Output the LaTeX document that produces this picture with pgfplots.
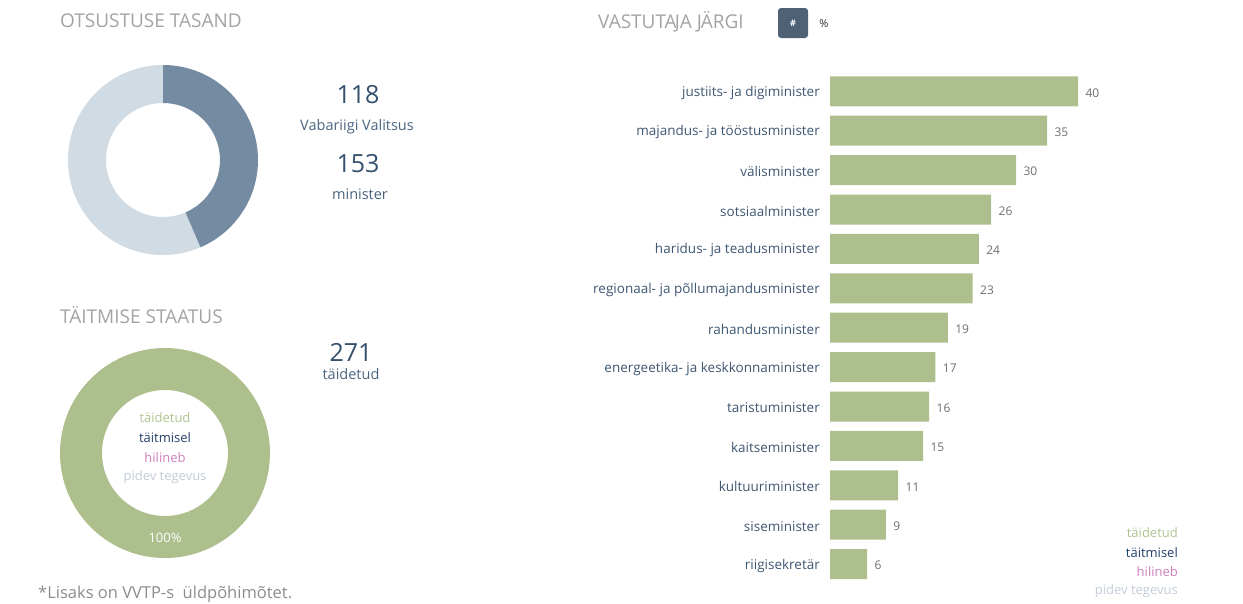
\documentclass[border=0pt]{standalone}
\usepackage{pgfplots}
\pgfplotsset{compat=1.18}
\usepackage{fontspec}
\setmainfont{Open Sans}
\definecolor{titlegray}{HTML}{A3A3A3}
\definecolor{footgray}{HTML}{8C8C8C}
\definecolor{numdark}{HTML}{34506D}
\definecolor{labcol}{HTML}{4A6580}
\definecolor{catcol}{HTML}{3E5671}
\definecolor{valgray}{HTML}{6E6E6E}
\definecolor{barGreen}{HTML}{ADBF8C}
\definecolor{segDark}{HTML}{748BA1}
\definecolor{segLight}{HTML}{D1DBE4}
\definecolor{btn}{HTML}{4F6275}
\definecolor{lgGreen}{HTML}{B0C48F}
\definecolor{lgNavy}{HTML}{21406A}
\definecolor{lgPink}{HTML}{CC7FBE}
\definecolor{lgGray}{HTML}{C2CCD8}
\begin{document}
\begin{tikzpicture}
\path (0pt,0pt) rectangle (1243pt,-603pt);
\pgfmathsetmacro{\vA}{118}
\pgfmathsetmacro{\vB}{153}
\pgfmathsetmacro{\angA}{90-360*(\vA/(\vA+\vB))}
\pgfmathsetmacro{\angB}{\angA+360}
\pgfmathsetmacro{\oX}{95*cos(\angA)}
\pgfmathsetmacro{\oY}{95*sin(\angA)}
\pgfmathsetmacro{\iX}{57*cos(\angA)}
\pgfmathsetmacro{\iY}{57*sin(\angA)}
% ---------- titles ----------
\node[anchor=west,inner sep=0pt,text=titlegray,font=\fontsize{19}{22}\selectfont] at (60pt,-21pt) {OTSUSTUSE TASAND};
\node[anchor=west,inner sep=0pt,text=titlegray,font=\fontsize{19}{22}\selectfont] at (60pt,-315pt) {TÄITMISE STAATUS};
\node[anchor=west,inner sep=0pt,text=titlegray,font=\fontsize{19}{22}\selectfont] at (598pt,-22pt) {VASTUTA\kern-2pt JA J\kern-1pt ÄRGI};
\fill[btn,rounded corners=3pt] (778pt,-8pt) rectangle (808pt,-38pt);
\node[text=white,font=\fontsize{9}{11}\selectfont\bfseries] at (793pt,-23pt) {\#};
\node[text=black!80,font=\fontsize{11}{13}\selectfont] at (824pt,-24pt) {\%};
% ---------- top donut ----------
\begin{axis}[at={(163pt,-160pt)},anchor=center,hide axis,scale only axis,
  width=190pt,height=190pt,xmin=-95,xmax=95,ymin=-95,ymax=95]
\fill[segLight] (axis cs:\oX,\oY) arc[start angle=\angA,end angle=-270,radius=95pt]
  -- (axis cs:0,57) arc[start angle=90,end angle=\angB,radius=57pt] -- cycle;
\fill[segDark] (axis cs:0,95) arc[start angle=90,end angle=\angA,radius=95pt]
  -- (axis cs:\iX,\iY) arc[start angle=\angA,end angle=90,radius=57pt] -- cycle;
\end{axis}
\node[text=numdark,font=\fontsize{25}{30}\selectfont] at (358pt,-95pt) {118};
\node[text=labcol,font=\fontsize{14.5}{17}\selectfont] at (357pt,-127pt) {Vabariigi Valitsus};
\node[text=numdark,font=\fontsize{25}{30}\selectfont] at (358pt,-164pt) {153};
\node[text=labcol,font=\fontsize{14.5}{17}\selectfont] at (360pt,-194pt) {minister};
% ---------- bottom donut ----------
\begin{axis}[at={(165pt,-453pt)},anchor=center,hide axis,scale only axis,
  width=210pt,height=210pt,xmin=-105,xmax=105,ymin=-105,ymax=105]
\fill[barGreen,even odd rule] (axis cs:0,0) circle[radius=105pt] (axis cs:0,0) circle[radius=63pt];
\end{axis}
\node[text=white,font=\fontsize{13}{15}\selectfont] at (165pt,-538pt) {100\%};
\node[text=lgGreen,font=\fontsize{13}{15}\selectfont] at (165pt,-418pt) {täidetud};
\node[text=lgNavy,font=\fontsize{13}{15}\selectfont] at (165pt,-438pt) {täitmisel};
\node[text=lgPink,font=\fontsize{13}{15}\selectfont] at (165pt,-458pt) {hilineb};
\node[text=lgGray,font=\fontsize{13}{15}\selectfont] at (165pt,-477pt) {pidev tegevus};
\node[text=numdark,font=\fontsize{25}{30}\selectfont] at (351pt,-352pt) {271};
\node[text=labcol,font=\fontsize{14.5}{17}\selectfont] at (351pt,-374pt) {täidetud};
\node[anchor=west,inner sep=0pt,text=footgray,font=\fontsize{16.5}{19}\selectfont] at (38pt,-594pt) {*Lisaks on VVTP-s\ \ üldpõhimõtet.};
% ---------- bar chart ----------
\begin{axis}[at={(830pt,-71.6pt)},anchor=north west,scale only axis,
  width=248pt,height=512.2pt,xmin=0,xmax=40,ymin=-0.5,ymax=12.5,
  y dir=reverse,xbar,bar width=30pt,enlargelimits=false,
  axis line style={draw=none},major tick length=0pt,xtick=\empty,
  /pgf/number format/assume math mode=true,
  ytick={0,1,2,3,4,5,6,7,8,9,10,11,12},
  yticklabels={justiits- ja digiminister,majandus- ja tööstusminister,välisminister,sotsiaalminister,haridus- ja teadusminister,regionaal- ja põllumajandusminister,rahandusminister,energeetika- ja keskkonnaminister,taristuminister,kaitseminister,kultuuriminister,siseminister,riigisekretär},
  yticklabel style={font=\fontsize{13.5}{16}\selectfont,text=catcol,inner sep=0pt,xshift=-10pt,yshift=-1.5pt},
  nodes near coords,
  nodes near coords style={font=\fontsize{12}{14}\selectfont,text=valgray,xshift=4pt,yshift=-1.5pt}]
\addplot[fill=barGreen,draw=none] coordinates {(40,0) (35,1) (30,2) (26,3) (24,4) (23,5) (19,6) (17,7) (16,8) (15,9) (11,10) (9,11) (6,12)};
\end{axis}
% ---------- legend bottom right ----------
\node[anchor=east,inner sep=0pt,text=lgGreen,font=\fontsize{13}{15}\selectfont] at (1178pt,-533pt) {täidetud};
\node[anchor=east,inner sep=0pt,text=lgNavy,font=\fontsize{13}{15}\selectfont] at (1178pt,-553pt) {täitmisel};
\node[anchor=east,inner sep=0pt,text=lgPink,font=\fontsize{13}{15}\selectfont] at (1178pt,-572pt) {hilineb};
\node[anchor=east,inner sep=0pt,text=lgGray,font=\fontsize{13}{15}\selectfont] at (1178pt,-591pt) {pidev tegevus};
\end{tikzpicture}
\end{document}
